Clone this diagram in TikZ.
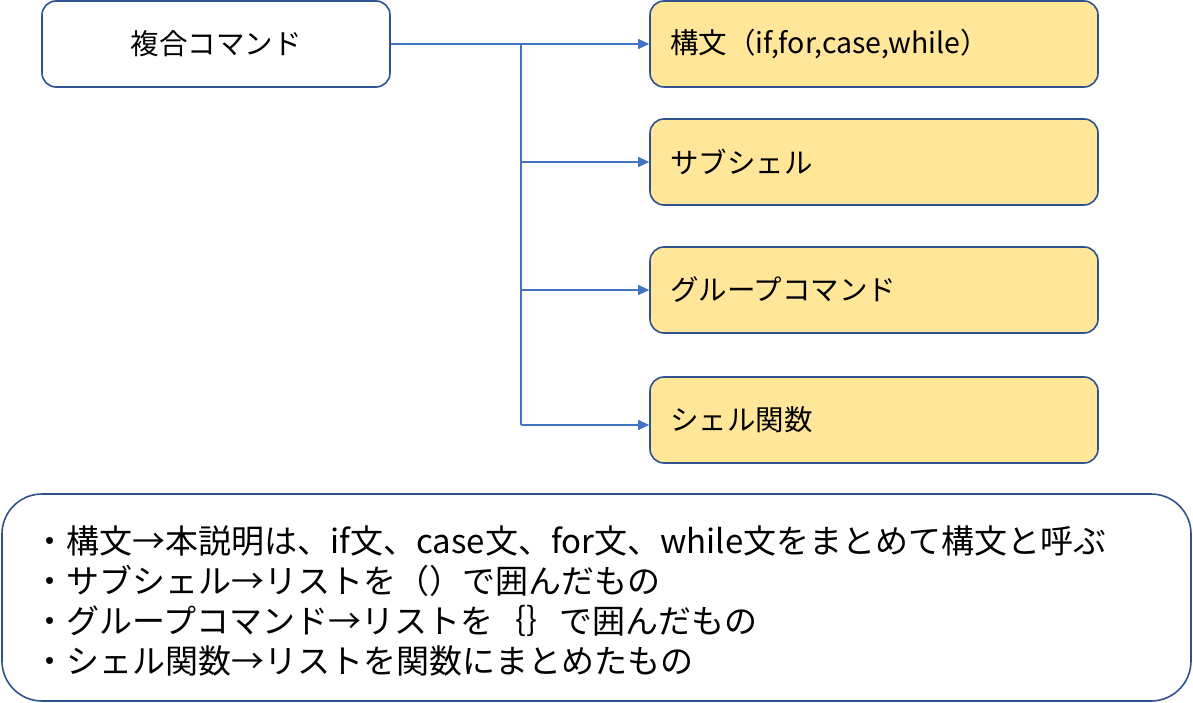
\documentclass[tikz,border=0pt]{standalone}
\usepackage{fontspec}
\setmainfont{Noto Sans CJK JP}
\usepackage{xcolor}
\usetikzlibrary{arrows.meta}

\definecolor{boxline}{HTML}{2F528F}
\definecolor{boxfill}{HTML}{FFE699}
\definecolor{linkline}{HTML}{4472C4}

\tikzset{
  cmdbox/.style={draw=boxline, line width=1.6pt, rounded corners=14pt, fill=white,
    minimum width=348pt, minimum height=86pt, font=\fontsize{28.5}{34}\selectfont},
  kindbox/.style={draw=boxline, line width=1.6pt, rounded corners=14pt, fill=boxfill,
    text width=408pt, inner xsep=20pt, minimum height=86pt, align=left,
    font=\fontsize{28.5}{34}\selectfont},
  notebox/.style={draw=boxline, line width=1.6pt, rounded corners=40pt},
  link/.style={draw=linkline, line width=1.1pt},
  linkarrow/.style={link, -{Triangle[length=11pt,width=10pt]}}
}

\begin{document}
\begin{tikzpicture}[x=1pt,y=-1pt]
                \useasboundingbox (0,0) rectangle (1193,703);
                \node[cmdbox] (cmd) at (216,44) {複合コマンド};
                \node[kindbox] (syn) at (874,44) {構文（if,for,case,while）};
                \node[kindbox] (sub) at (874,162) {サブシェル};
                \node[kindbox] (grp) at (874,290) {グループコマンド};
                \node[kindbox] (fun) at (874,420) {シェル関数};
                \coordinate (j1) at (521,44);
                \coordinate (j2) at (521,162);
                \coordinate (j3) at (521,290);
                \coordinate (j4) at (521,425);
                \draw[linkarrow] (cmd.east) -- (syn.west);
                \draw[link] (j1) -- (j4);
                \draw[linkarrow] (j2) -- (j2 -| sub.west);
                \draw[linkarrow] (j3) -- (j3 -| grp.west);
                \draw[linkarrow] (j4) -- (j4 -| fun.west);
                \draw[notebox] (2,494) rectangle (1191,701);
                \node[anchor=west, align=left, font=\fontsize{33}{40}\selectfont] (note) at (30,601)
                  {・構文→本説明は、if文、case文、for文、while文をまとめて構文と呼ぶ\\
                   ・サブシェル→リストを（）で囲んだもの\\
                   ・グループコマンド→リストを｛｝で囲んだもの\\
                   ・シェル関数→リストを関数にまとめたもの};
            \end{tikzpicture}
\end{document}
